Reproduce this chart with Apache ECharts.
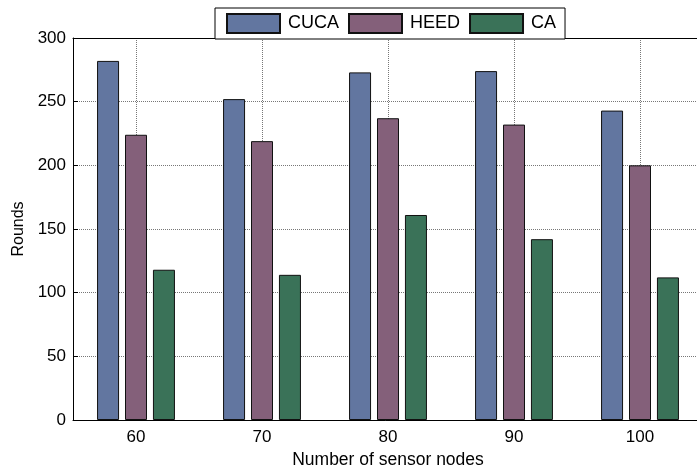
<!DOCTYPE html>
<html>
<head>
<meta charset="utf-8">
<script src="https://cdn.jsdelivr.net/npm/echarts@6/dist/echarts.min.js"></script>
<style>
  html, body { margin: 0; padding: 0; background: #fff; }
  #main { width: 697px; height: 468px; }
</style>
</head>
<body>
<div id="main"></div>
<script>
var nodes = ['60', '70', '80', '90', '100']
var cuca = [282, 252, 273, 274, 243]
var heed = [224, 219, 237, 232, 200]
var ca = [118, 114, 161, 142, 112]

var chart = echarts.init(document.getElementById('main'))
var font = 'Liberation Sans, Arial, sans-serif'

// bar border is used by the legend swatches too
var bar = function (name, data, color) {
    return {
        name: name,
        type: 'bar',
        data: data,
        barWidth: 22,
        barGap: '27%',
        itemStyle: { color: color, borderColor: '#111', borderWidth: 1 }
    }
}

var option = {
    animation: false,
    backgroundColor: '#fff',
    grid: { left: 73, top: 38, width: 630, height: 382, outerBoundsMode: 'none', containLabel: false },
    legend: {
        left: 215,
        top: 8,
        padding: [5, 9, 5, 11],
        icon: 'rect',
        itemWidth: 53,
        itemHeight: 19,
        itemGap: 9,
        borderColor: '#000',
        borderWidth: 1,
        backgroundColor: '#fff',
        textStyle: { fontSize: 18, color: '#000', fontFamily: font, padding: [0, 0, 0, 3] },
        data: ['CUCA', 'HEED', 'CA']
    },
    xAxis: [{
        type: 'category',
        data: nodes,
        name: 'Number of sensor nodes',
        nameLocation: 'middle',
        nameGap: 31,
        nameTextStyle: { fontSize: 17.5, color: '#000', fontFamily: font },
        axisLine: { lineStyle: { color: '#000', width: 1 } },
        axisTick: { inside: true, alignWithLabel: true, length: 5, lineStyle: { color: '#000' } },
        axisLabel: { fontSize: 17, color: '#000', fontFamily: font, margin: 9 },
        splitLine: { show: true, alignWithLabel: true, lineStyle: { color: '#777', type: 'dotted', width: 1 } }
    }, {
        type: 'category',
        position: 'top',
        data: nodes,
        axisLine: { lineStyle: { color: '#000', width: 1 } },
        axisTick: { inside: true, alignWithLabel: true, length: 5, lineStyle: { color: '#000' } },
        axisLabel: { show: false }
    }],
    yAxis: {
        type: 'value',
        min: 0,
        max: 300,
        interval: 50,
        name: 'Rounds',
        nameLocation: 'middle',
        nameGap: 46,
        nameTextStyle: { fontSize: 16, color: '#000', fontFamily: font },
        axisLine: { show: true, lineStyle: { color: '#000', width: 1 } },
        axisTick: { show: true, inside: true, length: 5, lineStyle: { color: '#000' } },
        axisLabel: { fontSize: 17, color: '#000', fontFamily: font, margin: 7 },
        splitLine: { lineStyle: { color: '#777', type: 'dotted', width: 1 } }
    },
    series: [
        bar('CUCA', cuca, '#6276a0'),
        bar('HEED', heed, '#84607a'),
        bar('CA', ca, '#3a7258')
    ]
}
chart.setOption(option)
</script>
</body>
</html>
